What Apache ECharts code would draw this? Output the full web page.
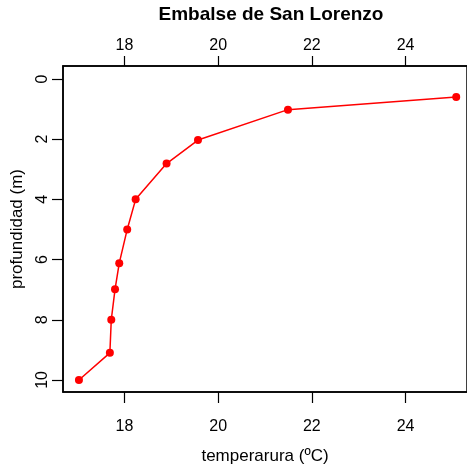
<!DOCTYPE html>
<html>
<head>
<meta charset="utf-8">
<script src="https://cdn.jsdelivr.net/npm/echarts@6/dist/echarts.min.js"></script>
<style>html,body{margin:0;padding:0;background:#fff}#c{width:467px;height:468px}</style>
</head>
<body>
<div id="c"></div>
<script>
const temperature = [25.08, 21.49, 19.57, 18.90, 18.24, 18.06, 17.89, 17.80, 17.72, 17.69, 17.03];
const depth = [0.6, 1.02, 2.03, 2.81, 4.0, 5.0, 6.12, 6.99, 8.0, 9.1, 10.0];
const xTicks = [18, 20, 22, 24];
const yTicks = [0, 2, 4, 6, 8, 10];
const titleText = 'Embalse de San Lorenzo';
const xName = 'temperarura (ºC)';
const yName = 'profundidad (m)';

const FONT = '"Liberation Sans", Arial, sans-serif';
const chart = echarts.init(document.getElementById('c'), null, {renderer: 'canvas'});
const xMin = 16.69, xMax = 25.31, yMin = -0.43, yMax = 10.4;

function xAxisCfg(pos, margin, tickLen) {
  return {
    type: 'value', position: pos, min: xMin, max: xMax,
    axisLine: {show: true, onZero: false, lineStyle: {color: '#000', width: 1.5}},
    axisTick: {show: true, customValues: xTicks, length: tickLen, lineStyle: {color: '#000', width: 1.2}},
    axisLabel: {show: true, customValues: xTicks, margin: margin, color: '#000', fontSize: 16, fontFamily: FONT},
    splitLine: {show: false}
  };
}

const xTop = xAxisCfg('top', 12, 10);
const xBottom = xAxisCfg('bottom', 27, 11);
xBottom.name = xName;
xBottom.nameLocation = 'middle';
xBottom.nameGap = 56;
xBottom.nameTextStyle = {color: '#000', fontSize: 17, fontFamily: FONT};

chart.setOption({
  animation: false,
  backgroundColor: '#fff',
  title: {
    text: titleText, left: 266, top: 0, textAlign: 'center',
    textStyle: {fontSize: 19, fontWeight: 'bold', color: '#000', fontFamily: FONT}
  },
  grid: {left: 63, top: 66, right: 0, bottom: 76, show: true, borderColor: '#000', borderWidth: 1.5,
         containLabel: false, outerBoundsMode: 'none'},
  xAxis: [xTop, xBottom],
  yAxis: {
    type: 'value', inverse: true, min: yMin, max: yMax,
    name: yName, nameLocation: 'middle', nameGap: 37,
    nameTextStyle: {color: '#000', fontSize: 17, fontFamily: FONT},
    axisLine: {show: true, onZero: false, lineStyle: {color: '#000', width: 1.5}},
    axisTick: {show: true, customValues: yTicks, length: 11, lineStyle: {color: '#000', width: 1.2}},
    axisLabel: {show: true, customValues: yTicks, rotate: 90, margin: 12, color: '#000', fontSize: 16, fontFamily: FONT},
    splitLine: {show: false}
  },
  series: [{
    type: 'line', xAxisIndex: 1,
    data: temperature.map((t, i) => [t, depth[i]]),
    symbol: 'circle', symbolSize: 8,
    lineStyle: {color: '#ff0000', width: 1.5},
    itemStyle: {color: '#ff0000'},
    clip: false
  }]
});
</script>
</body>
</html>
